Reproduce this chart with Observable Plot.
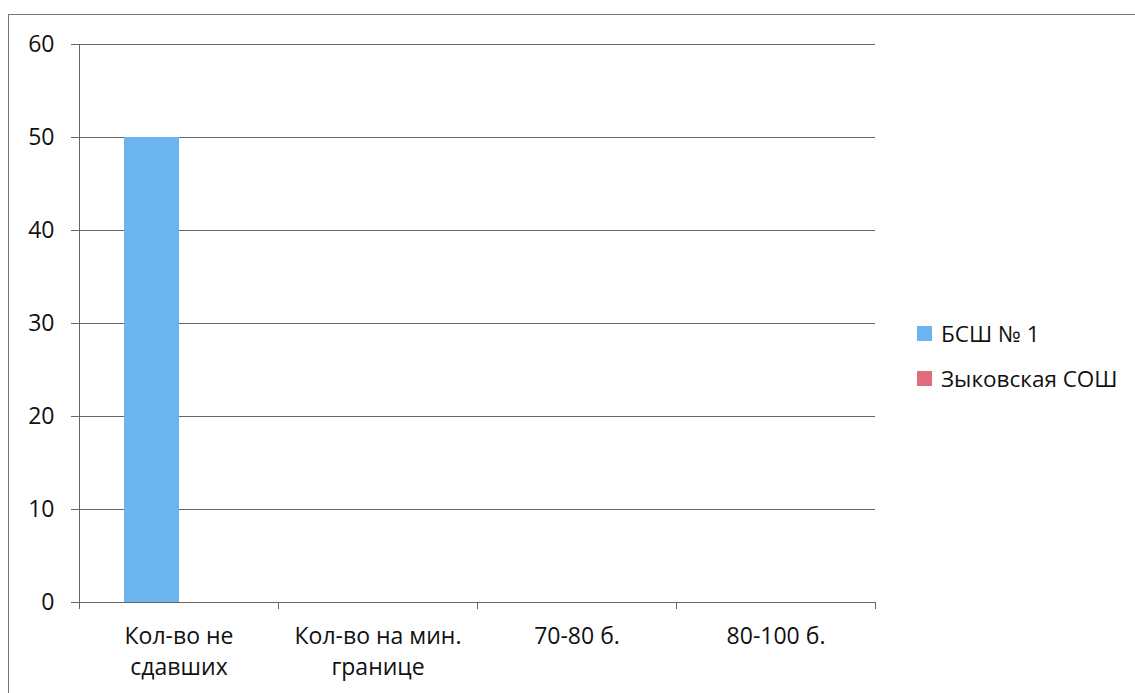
<!DOCTYPE html>
<html>
<head>
<meta charset="utf-8">
<script src="https://cdn.jsdelivr.net/npm/d3@7"></script>
<script src="https://cdn.jsdelivr.net/npm/@observablehq/plot@0.6"></script>
<style>
  html, body { margin: 0; padding: 0; background: #fff; }
  #wrap { position: relative; width: 1135px; height: 693px; overflow: hidden; font-family: "Open Sans", sans-serif; }
  #border { position: absolute; left: 8px; top: 14px; width: 1200px; height: 800px; border-left: 1px solid #777; border-top: 1px solid #777; }
  #chart { position: absolute; left: 0; top: 0; }
  #legend { position: absolute; left: 917px; top: 321px; font-size: 22.5px; color: #111; }
  .item { display: flex; align-items: center; height: 24px; margin-bottom: 21px; }
  .sw { width: 15px; height: 15px; margin-right: 9px; display: inline-block; }
</style>
</head>
<body>
<div id="wrap">
  <div id="border"></div>
  <div id="chart"></div>
  <div id="legend"></div>
</div>
<script>
const categories = ["Кол-во не сдавших", "Кол-во на мин. границе", "70-80 б.", "80-100 б."];
const categoryLabels = ["Кол-во не\nсдавших", "Кол-во на мин.\nгранице", "70-80 б.", "80-100 б."];
const series = ["БСШ № 1", "Зыковская СОШ"];
const valuesBSH = [50, 0, 0, 0];
const valuesZykov = [0, 0, 0, 0];
const colors = ["#6cb4ef", "#e26c7c"];
const yTicks = [0, 10, 20, 30, 40, 50, 60];

const seriesValues = [valuesBSH, valuesZykov];
const data = categories.flatMap((c, i) => series.map((s, j) => ({category: c, series: s, value: seriesValues[j][i]})));

const chart = Plot.plot({
  width: 1135,
  height: 693,
  marginLeft: 78,
  marginRight: 260,
  marginTop: 44,
  marginBottom: 91,
  style: {fontFamily: "Open Sans, sans-serif", fontSize: "23px", background: "transparent", color: "#111"},
  fx: {domain: categories, padding: 0, label: null},
  x: {domain: series, paddingInner: 0, paddingOuter: 0.78, axis: null},
  y: {domain: [0, 60], label: null},
  color: {domain: series, range: colors},
  marks: [
    Plot.gridY(yTicks, {stroke: "#666", strokeOpacity: 1}),
    Plot.ruleY([0], {stroke: "#666"}),
    Plot.frame({anchor: "left", stroke: "#666", facetAnchor: "left"}),
    Plot.frame({anchor: "left", stroke: "#666", insetTop: 558, insetBottom: -6}),
    Plot.frame({anchor: "right", stroke: "#666", insetTop: 558, insetBottom: -6, facetAnchor: "right"}),
    Plot.axisY({ticks: yTicks, tickSize: 8, tickPadding: 17, label: null, stroke: "#666", fontSize: 23, fill: "#111"}),
    Plot.axisFx({anchor: "bottom", tickSize: 0, tickPadding: 19, lineHeight: 1.35, label: null, fontSize: 23, fill: "#111",
      tickFormat: d => categoryLabels[categories.indexOf(d)]}),
    Plot.barY(data, {fx: "category", x: "series", y: "value", fill: "series"})
  ]
});
document.getElementById("chart").appendChild(chart);

const legend = document.getElementById("legend");
series.forEach((s, i) => {
  const item = document.createElement("div");
  item.className = "item";
  const sw = document.createElement("span");
  sw.className = "sw";
  sw.style.background = colors[i];
  const t = document.createElement("span");
  t.textContent = s;
  item.appendChild(sw);
  item.appendChild(t);
  legend.appendChild(item);
});
</script>
</body>
</html>
